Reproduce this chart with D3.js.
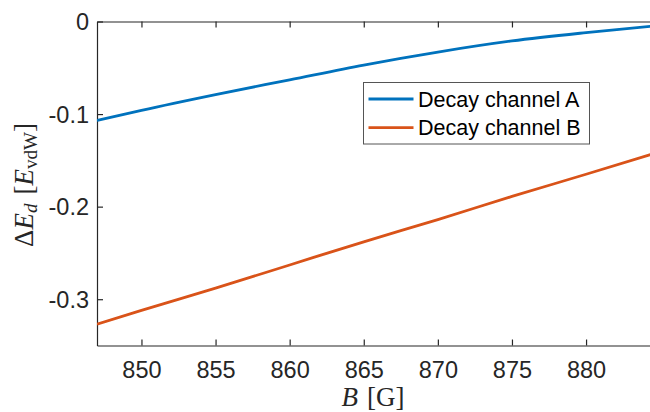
<!DOCTYPE html>
<html>
<head>
<meta charset="utf-8">
<script src="https://cdn.jsdelivr.net/npm/d3@7"></script>
<style>
  body { margin: 0; background: #fff; }
  svg { display: block; }
  .math { font-family: "Liberation Serif", "Times New Roman", serif; fill: #262626; }
</style>
</head>
<body>
<svg id="chart" width="650" height="412"></svg>
<script>
// field values (G)
var fieldB = [847, 850, 855, 860, 865, 870, 875, 880, 884.5];
// energy shift, channel A and B (E_vdW)
var channelA = [-0.107, -0.096, -0.079, -0.063, -0.047, -0.033, -0.021, -0.012, -0.005];
var channelB = [-0.327, -0.312, -0.288, -0.263, -0.238, -0.214, -0.189, -0.165, -0.143];
var seriesNames = ['Decay channel A', 'Decay channel B'];
var seriesColors = ['#0072BD', '#D95319'];
var xTicks = [850, 855, 860, 865, 870, 875, 880];
var yTicks = [0, -0.1, -0.2, -0.3];

var svg = d3.select('#chart');
var plotLeft = 97, plotTop = 21.5, plotBottom = 345.5;

var x = d3.scaleLinear().domain([847, 885]).range([plotLeft, plotLeft + 38 * 14.82]);
var y = d3.scaleLinear().domain([-0.35, 0]).range([plotBottom, plotTop]);

svg.append('clipPath').attr('id', 'clip')
  .append('rect').attr('x', plotLeft).attr('y', plotTop)
  .attr('width', 650 - plotLeft).attr('height', plotBottom - plotTop);

// bottom axis
var xAxis = svg.append('g')
  .attr('transform', 'translate(0,' + plotBottom + ')')
  .call(d3.axisBottom(x).tickValues(xTicks).tickSizeInner(-6).tickSizeOuter(0).tickPadding(16));
// top axis line
svg.append('g')
  .attr('transform', 'translate(0,' + plotTop + ')')
  .call(d3.axisTop(x).tickValues(xTicks).tickSizeInner(-6).tickSizeOuter(0).tickFormat(''));
// left axis
var yAxis = svg.append('g')
  .attr('transform', 'translate(' + plotLeft + ',0)')
  .call(d3.axisLeft(y).tickValues(yTicks).tickSizeInner(-6).tickSizeOuter(0).tickPadding(8)
    .tickFormat(function(d) { return d === 0 ? '0' : d3.format('.1f')(d).replace('−', '-'); }));

svg.selectAll('.domain').attr('stroke', '#262626').attr('stroke-width', 1.2);
svg.selectAll('.tick line').attr('stroke', '#262626').attr('stroke-width', 1.2);
svg.selectAll('.tick text')
  .style('font-family', 'Helvetica, "Liberation Sans", Arial, sans-serif')
  .style('font-size', '23.5px')
  .style('fill', '#262626');
xAxis.selectAll('.tick text').attr('dy', '0.71em');
yAxis.selectAll('.tick text').attr('dy', '0.35em');

// lines
var line = d3.line()
  .x(function(d, i) { return x(fieldB[i]); })
  .y(function(d) { return y(d); })
  .curve(d3.curveMonotoneX);

svg.append('g').attr('clip-path', 'url(#clip)')
  .selectAll('path.series')
  .data([channelA, channelB])
  .enter().append('path')
  .attr('class', 'series')
  .attr('d', line)
  .attr('fill', 'none')
  .attr('stroke', function(d, i) { return seriesColors[i]; })
  .attr('stroke-width', 2.8);

// legend
var legend = svg.append('g').attr('transform', 'translate(363.5,82.5)');
legend.append('rect')
  .attr('width', 226).attr('height', 61.5)
  .attr('fill', '#fff').attr('stroke', '#555').attr('stroke-width', 1);
seriesNames.forEach(function(name, i) {
  var ly = 16.5 + i * 28.7;
  legend.append('line')
    .attr('x1', 5).attr('x2', 50).attr('y1', ly).attr('y2', ly)
    .attr('stroke', seriesColors[i]).attr('stroke-width', 2.8);
  legend.append('text')
    .attr('x', 54.5).attr('y', ly).attr('dy', '0.35em')
    .style('font-family', 'Helvetica, "Liberation Sans", Arial, sans-serif')
    .style('font-size', '21.5px').style('fill', '#000')
    .text(name);
});

// x label
var xl = svg.append('text').attr('class', 'math')
  .attr('x', 373).attr('y', 406).attr('text-anchor', 'middle')
  .style('font-size', '27px');
xl.append('tspan').style('font-style', 'italic').text('B');
xl.append('tspan').attr('dx', 9).text('[G]');

// y label
var yl = svg.append('text').attr('class', 'math')
  .attr('transform', 'translate(33,185) rotate(-90)')
  .attr('text-anchor', 'middle')
  .style('font-size', '27px');
yl.append('tspan').text('Δ');
yl.append('tspan').style('font-style', 'italic').text('E');
yl.append('tspan').style('font-style', 'italic').style('font-size', '19px').attr('dy', 4).text('d');
yl.append('tspan').attr('dy', -4).attr('dx', 9).text('[');
yl.append('tspan').style('font-style', 'italic').text('E');
yl.append('tspan').style('font-size', '19px').attr('dy', 4).text('vdW');
yl.append('tspan').attr('dy', -4).text(']');
</script>
</body>
</html>
